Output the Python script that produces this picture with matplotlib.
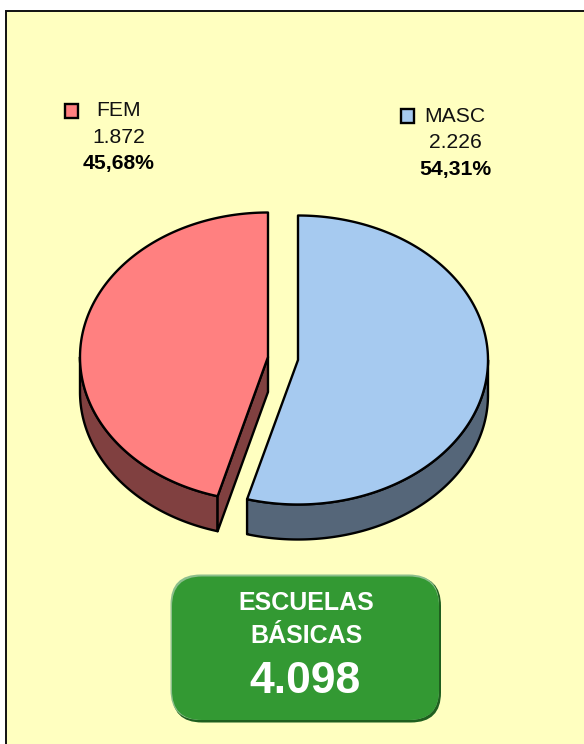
import numpy as np
import matplotlib
matplotlib.use("Agg")
import matplotlib.pyplot as plt
from matplotlib.patches import Polygon, Rectangle, FancyBboxPatch

categories = ["MASC", "FEM"]
values = [2226, 1872]
value_labels = ["2.226", "1.872"]
pct_labels = ["54,31%", "45,68%"]
title_lines = ["ESCUELAS", "BÁSICAS"]
total_label = "4.098"

plt.rcParams["font.family"] = ["Liberation Sans", "DejaVu Sans"]
fig = plt.figure(figsize=(5.84, 7.44), dpi=100, facecolor="white")
ax = fig.add_axes([0, 0, 1, 1])
ax.set_xlim(0, 584)
ax.set_ylim(744, 0)
ax.axis("off")

ax.add_patch(Rectangle((5.5, 10.5), 640, 800, fc="#FFFFC0", ec="#111111", lw=1.4, zorder=0))

RY, DEPTH = 144.5, 35
shares = np.array(values) / sum(values)
split = shares[0] * 360


def pt(cx, cy, deg, rx):
    a = np.radians(deg)
    return np.column_stack([cx + rx * np.sin(a), cy - RY * np.cos(a)])


def arc(cx, cy, a0, a1, rx):
    return pt(cx, cy, np.linspace(a0, a1, 240), rx)


def poly(xy, color, z):
    ax.add_patch(Polygon(xy, closed=True, fc=color, ec="black", lw=1.7, joinstyle="round", zorder=z))


# MASC slice
cx, cy, rx = 298, 360, 190
a = arc(cx, cy, 90, split, rx)
poly(np.vstack([a, a[::-1] + [0, DEPTH]]), "#556679", 2)
poly(np.vstack([[cx, cy], arc(cx, cy, 0, split, rx)]), "#A6CAF0", 3)

# FEM slice
cx, cy, rx = 268, 357, 188
a = arc(cx, cy, split, 270, rx)
poly(np.vstack([a, a[::-1] + [0, DEPTH]]), "#804040", 2)
e = pt(cx, cy, split, rx)[0]
poly([(cx, cy), e, e + [0, DEPTH], (cx, cy + DEPTH)], "#804040", 2)
poly(np.vstack([[cx, cy], arc(cx, cy, split, 360, rx)]), "#FF8080", 3)

# Labels
FS = 15.2
ax.add_patch(Rectangle((400.5, 108.5), 13.5, 14, fc="#A6CAF0", ec="black", lw=1.7, zorder=4))
ax.text(454.5, 116, categories[0], fontsize=FS, ha="center", va="center", color="#111111")
ax.text(455, 143, value_labels[0], fontsize=FS, ha="center", va="center", color="#111111")
ax.text(455.5, 169, pct_labels[0], fontsize=FS, ha="center", va="center", fontweight="bold", color="black")

ax.add_patch(Rectangle((64.5, 103.5), 13.5, 14, fc="#FF8080", ec="black", lw=1.7, zorder=4))
ax.text(119, 110, categories[1], fontsize=FS, ha="center", va="center", color="#111111")
ax.text(119, 137.5, value_labels[1], fontsize=FS, ha="center", va="center", color="#111111")
ax.text(118.5, 164, pct_labels[1], fontsize=FS, ha="center", va="center", fontweight="bold", color="black")


# Total box
def box(x0, y0, x1, y1, color, z):
    ax.add_patch(FancyBboxPatch((x0 + 30, y0 + 30), x1 - x0 - 60, y1 - y0 - 60,
                                boxstyle="round,pad=30,rounding_size=30",
                                fc=color, ec="none", zorder=z))


box(172, 576, 441, 722.5, "#1F5F1F", 5)
box(170.5, 574.5, 439, 720, "#8CBF8C", 6)
box(172, 576.5, 439, 720, "#339933", 7)
ax.text(306, 603.5, title_lines[0], fontsize=18, fontweight="bold", color="white", ha="center", va="center", zorder=8)
ax.text(306, 636, title_lines[1], fontsize=18, fontweight="bold", color="white", ha="center", va="center", zorder=8)
ax.text(305, 681.5, total_label, fontsize=32, fontweight="bold", color="white", ha="center", va="center", zorder=8)

fig.savefig("out.png", dpi=100, facecolor="white")
